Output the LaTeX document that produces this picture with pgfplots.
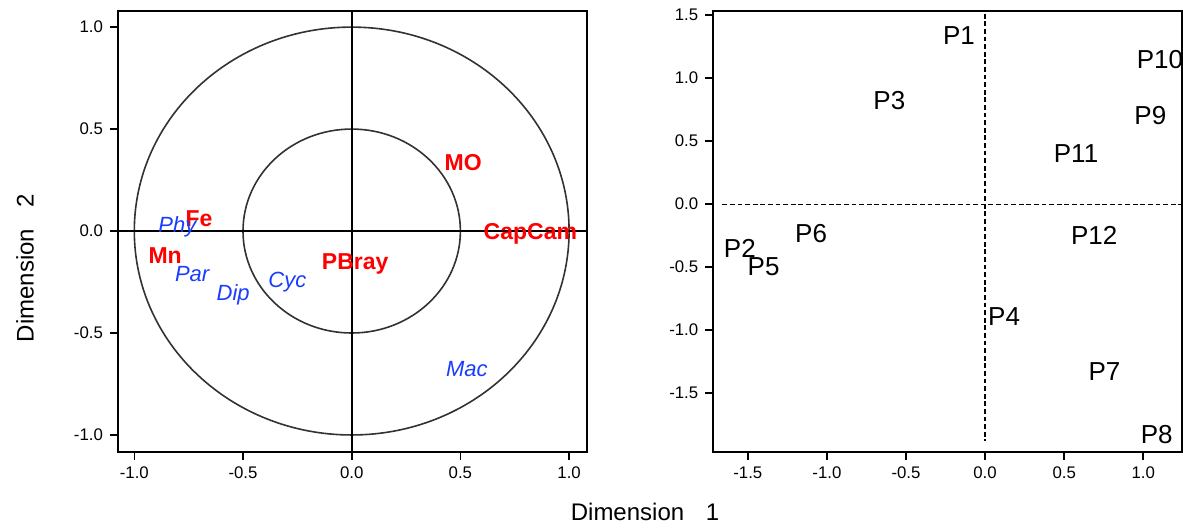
\documentclass[border=0pt]{standalone}
\usepackage{pgfplots}
\pgfplotsset{compat=1.18}
\usepackage{fontspec}
\setmainfont{Liberation Sans}

\definecolor{varred}{RGB}{255,0,0}
\definecolor{spblue}{RGB}{25,60,255}
\definecolor{ringgray}{RGB}{50,50,50}

% Correlation circle: soil variables (red) and taxa (blue)
\pgfplotstableread{
label  x       y
MO     0.513   0.338
CapCam 0.822  -0.013
Fe    -0.702   0.059
Mn    -0.858  -0.120
PBray  0.016  -0.160
}\soilvars

\pgfplotstableread{
label  x       y
Phy   -0.802   0.019
Par   -0.734  -0.212
Dip   -0.545  -0.315
Cyc   -0.296  -0.248
Mac    0.530  -0.678
}\taxa

% Site scores
\pgfplotstableread{
label  x       y
P1    -0.165   1.34
P2    -1.55   -0.35
P3    -0.605   0.82
P4     0.12   -0.89
P5    -1.40   -0.50
P6    -1.10   -0.23
P7     0.755  -1.33
P8     1.085  -1.83
P9     1.045   0.70
P10    1.105   1.15
P11    0.575   0.405
P12    0.69   -0.25
}\sites

\pgfplotsset{
  biplot/.style={
    scale only axis,
    anchor=south west,
    axis line style={line width=1pt},
    tick align=outside,
    tick pos=left,
    major tick length=4pt,
    every tick/.style={line width=0.8pt, black},
    /pgf/number format/assume math mode=true,
    /pgf/number format/fixed,
    /pgf/number format/fixed zerofill,
    /pgf/number format/precision=1,
    tick label style={font=\fontsize{8.4}{9}\selectfont},
    clip=false,
  },
  labelled/.style={
    only marks, mark=none,
    point meta=explicit symbolic,
    nodes near coords,
    nodes near coords align={center},
    every node near coord/.append style={inner sep=0pt},
  },
}

\begin{document}
\begin{tikzpicture}
\path (0pt,0pt) rectangle (591.5pt,263pt);

\begin{axis}[biplot,
  at={(59pt,37.15pt)}, width=234.35pt, height=220.35pt,
  xmin=-1.075, xmax=1.081, ymin=-1.082, ymax=1.079,
  xtick={-1,-0.5,0,0.5,1}, ytick={-1,-0.5,0,0.5,1},
]
  \draw[ringgray, line width=0.8pt] (axis cs:0,0) ellipse [x radius=1, y radius=1];
  \draw[ringgray, line width=0.8pt] (axis cs:0,0) ellipse [x radius=0.5, y radius=0.5];
  \draw[black, line width=0.9pt] (rel axis cs:0.5,0) -- (rel axis cs:0.5,1);
  \draw[black, line width=0.9pt] (axis cs:-1.075,0) -- (axis cs:1.081,0);
  \addplot[labelled, every node near coord/.append style={text=varred, font=\fontsize{11.5}{12}\selectfont\bfseries}]
    table[x=x, y=y, meta=label] {\soilvars};
  \addplot[labelled, every node near coord/.append style={text=spblue, font=\fontsize{11}{12}\selectfont\itshape}]
    table[x=x, y=y, meta=label] {\taxa};
\end{axis}

\begin{axis}[biplot,
  at={(356.65pt,37.15pt)}, width=234.2pt, height=220.35pt,
  xmin=-1.718, xmax=1.243, ymin=-1.965, ymax=1.533,
  xtick={-1.5,-1,-0.5,0,0.5,1}, ytick={-1.5,-1,-0.5,0,0.5,1,1.5},
]
  \draw[black, line width=0.6pt, dash pattern=on 2.4pt off 1.4pt] (axis cs:0,1.51) -- (axis cs:0,-1.88);
  \draw[black, line width=0.6pt, dash pattern=on 2.4pt off 1.4pt] (axis cs:-1.66,0) -- (axis cs:1.243,0);
  \addplot[labelled, every node near coord/.append style={text=black, font=\fontsize{13}{14}\selectfont}]
    table[x=x, y=y, meta=label] {\sites};
\end{axis}

\node[font=\fontsize{12}{13}\selectfont, rotate=90] at (12.5pt,129pt) {Dimension\hspace{0.9em}2};
\node[font=\fontsize{12}{13}\selectfont] at (322.5pt,7pt) {Dimension\hspace{0.9em}1};
\end{tikzpicture}
\end{document}
